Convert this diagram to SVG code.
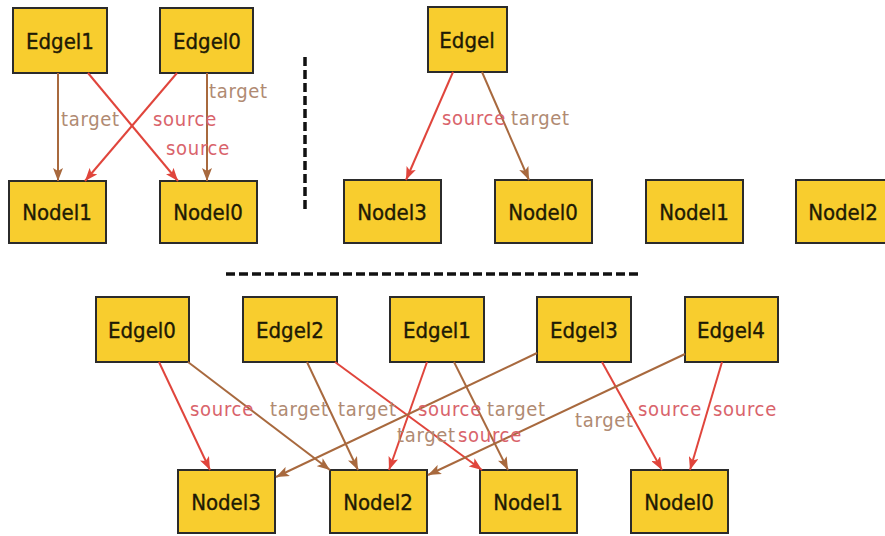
<svg xmlns="http://www.w3.org/2000/svg" width="885" height="536" viewBox="0 0 885 536">
<style>
.box{fill:#f8cd2e;stroke:#2b2b2b;stroke-width:2}
.nt{font-family:"DejaVu Sans Condensed","DejaVu Sans","Liberation Sans",sans-serif;font-stretch:condensed;font-size:22px;fill:#1e1a05;stroke:#1e1a05;stroke-width:0.35px;text-anchor:middle}
.src{stroke:#e0453c;stroke-width:2;fill:none;marker-end:url(#ar)}
.tgt{stroke:#a8693e;stroke-width:2;fill:none;marker-end:url(#at)}
.ls{font-family:"DejaVu Sans Condensed","DejaVu Sans","Liberation Sans",sans-serif;font-stretch:condensed;font-size:20px;fill:#d9636b;letter-spacing:0.7px}
.lt{font-family:"DejaVu Sans Condensed","DejaVu Sans","Liberation Sans",sans-serif;font-stretch:condensed;font-size:20px;fill:#b08a72;letter-spacing:0.7px}
.dash{stroke:#111;stroke-width:3.5;stroke-dasharray:9 4;fill:none}
</style>
<defs>
<marker id="ar" markerUnits="userSpaceOnUse" markerWidth="13" markerHeight="10" refX="13" refY="5" orient="auto"><path d="M0,0 L13,5 L0,10 L3,5 z" fill="#e0453c"/></marker>
<marker id="at" markerUnits="userSpaceOnUse" markerWidth="13" markerHeight="10" refX="13" refY="5" orient="auto"><path d="M0,0 L13,5 L0,10 L3,5 z" fill="#a8693e"/></marker>
</defs>
<rect width="885" height="536" fill="#ffffff"/>

<g id="separators">
<line class="dash" x1="305" y1="57" x2="305" y2="212"/>
<line class="dash" x1="226" y1="274" x2="638" y2="274"/>
</g>

<!-- top-left -->
<g id="tl-edge1"><rect class="box" x="13" y="8" width="94" height="65"/><text class="nt" x="60" y="49">Edgel1</text></g>
<g id="tl-edge0"><rect class="box" x="160" y="8" width="93" height="65"/><text class="nt" x="207" y="49">Edgel0</text></g>
<g id="tl-node1"><rect class="box" x="9" y="181" width="97" height="62"/><text class="nt" x="57" y="220">Nodel1</text></g>
<g id="tl-node0"><rect class="box" x="160" y="181" width="97" height="62"/><text class="nt" x="208" y="220">Nodel0</text></g>

<!-- top-right -->
<g id="tr-edge"><rect class="box" x="428" y="7" width="79" height="65"/><text class="nt" x="467" y="48">Edgel</text></g>
<g id="tr-node3"><rect class="box" x="344" y="180" width="97" height="63"/><text class="nt" x="392" y="220">Nodel3</text></g>
<g id="tr-node0"><rect class="box" x="495" y="180" width="97" height="63"/><text class="nt" x="543" y="220">Nodel0</text></g>
<g id="tr-node1"><rect class="box" x="646" y="180" width="97" height="63"/><text class="nt" x="694" y="220">Nodel1</text></g>
<g id="tr-node2"><rect class="box" x="796" y="180" width="97" height="63"/><text class="nt" x="843" y="220">Nodel2</text></g>

<!-- bottom -->
<g id="b-edge0"><rect class="box" x="96" y="297" width="93" height="65"/><text class="nt" x="142" y="338">Edgel0</text></g>
<g id="b-edge2"><rect class="box" x="243" y="297" width="94" height="65"/><text class="nt" x="290" y="338">Edgel2</text></g>
<g id="b-edge1"><rect class="box" x="390" y="297" width="94" height="65"/><text class="nt" x="437" y="338">Edgel1</text></g>
<g id="b-edge3"><rect class="box" x="537" y="297" width="94" height="65"/><text class="nt" x="584" y="338">Edgel3</text></g>
<g id="b-edge4"><rect class="box" x="685" y="297" width="93" height="65"/><text class="nt" x="731" y="338">Edgel4</text></g>
<g id="b-node3"><rect class="box" x="178" y="470" width="97" height="63"/><text class="nt" x="226" y="510">Nodel3</text></g>
<g id="b-node2"><rect class="box" x="330" y="470" width="97" height="63"/><text class="nt" x="378" y="510">Nodel2</text></g>
<g id="b-node1"><rect class="box" x="480" y="470" width="97" height="63"/><text class="nt" x="528" y="510">Nodel1</text></g>
<g id="b-node0"><rect class="box" x="631" y="470" width="97" height="63"/><text class="nt" x="679" y="510">Nodel0</text></g>

<g id="connectors">
<!-- top-left -->
<line class="tgt" x1="58" y1="73" x2="58" y2="181"/>
<line class="src" x1="88" y1="73" x2="178" y2="181"/>
<line class="src" x1="177" y1="73" x2="85" y2="181"/>
<line class="tgt" x1="207" y1="73" x2="207" y2="181"/>
<text class="lt" x="61" y="126">target</text>
<text class="ls" x="153" y="126">source</text>
<text class="ls" x="166" y="155">source</text>
<text class="lt" x="209" y="98">target</text>
<!-- top-right -->
<line class="src" x1="453" y1="72" x2="406" y2="180"/>
<line class="tgt" x1="482" y1="72" x2="529" y2="180"/>
<text class="ls" x="442" y="125">source</text>
<text class="lt" x="511" y="125">target</text>
<!-- bottom -->
<line class="src" x1="159" y1="362" x2="210" y2="470"/>
<line class="tgt" x1="188" y1="362" x2="330" y2="470"/>
<line class="tgt" x1="307" y1="362" x2="358" y2="470"/>
<line class="src" x1="335" y1="362" x2="482" y2="470"/>
<line class="src" x1="427" y1="362" x2="389" y2="470"/>
<line class="tgt" x1="454" y1="362" x2="508" y2="470"/>
<line class="tgt" x1="537" y1="353" x2="276" y2="477"/>
<line class="src" x1="602" y1="362" x2="662" y2="470"/>
<line class="tgt" x1="685" y1="354" x2="428" y2="475"/>
<line class="src" x1="722" y1="362" x2="690" y2="470"/>
<text class="ls" x="190" y="416">source</text>
<text class="lt" x="270" y="416">target</text>
<text class="lt" x="338" y="416">target</text>
<text class="ls" x="418" y="416">source</text>
<text class="lt" x="487" y="416">target</text>
<text class="lt" x="397" y="442">target</text>
<text class="ls" x="458" y="442">source</text>
<text class="lt" x="575" y="427">target</text>
<text class="ls" x="638" y="416">source</text>
<text class="ls" x="713" y="416">source</text>
</g>
</svg>
